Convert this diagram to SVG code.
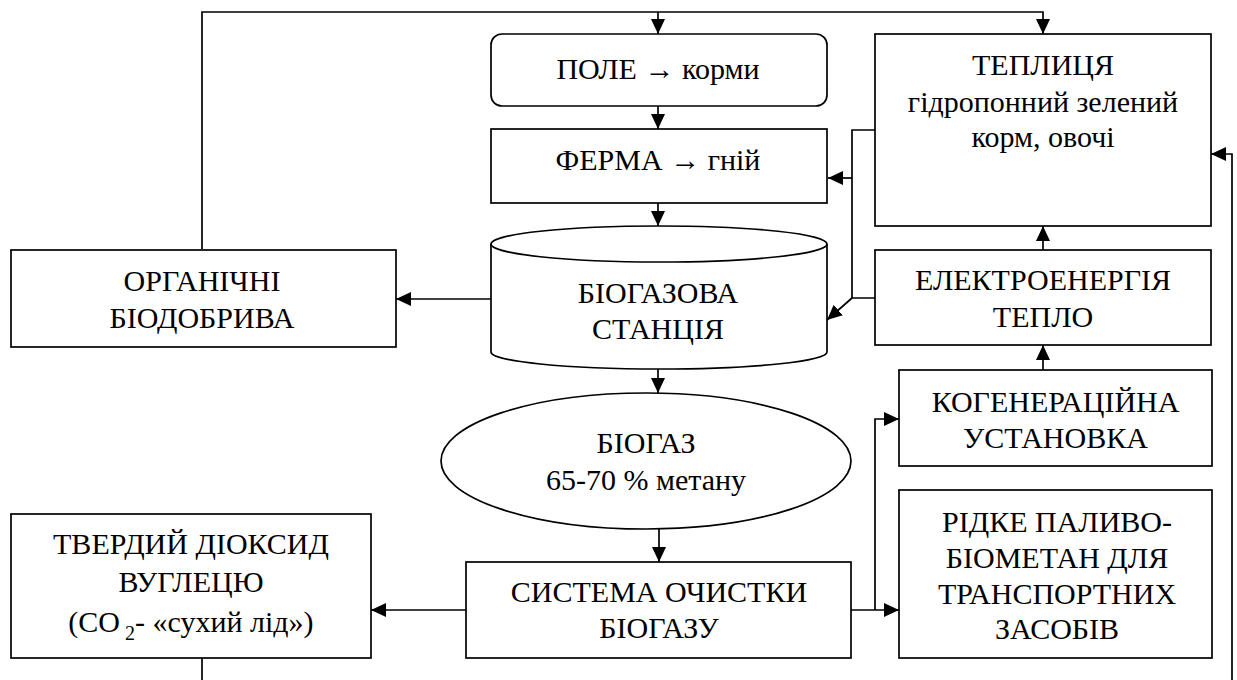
<svg xmlns="http://www.w3.org/2000/svg" width="1237" height="680" viewBox="0 0 1237 680">
<defs>
<marker id="ah" markerUnits="userSpaceOnUse" markerWidth="15" markerHeight="14" viewBox="0 0 15 14" refX="15" refY="7" orient="auto">
<path d="M0,0 L15,7 L0,14 Z" fill="#000"/>
</marker>
</defs>
<g id="connectors" fill="none" stroke="#000" stroke-width="1.7">
<path d="M202,249 V12 H1043 V34" marker-end="url(#ah)"/>
<path d="M658,12 V34" marker-end="url(#ah)"/>
<path d="M658,106 V129" marker-end="url(#ah)"/>
<path d="M658,203 V226" marker-end="url(#ah)"/>
<path d="M491,299 H396" marker-end="url(#ah)"/>
<path d="M658,369 V393" marker-end="url(#ah)"/>
<path d="M659,515 V562" marker-end="url(#ah)"/>
<path d="M466,610 H371" marker-end="url(#ah)"/>
<path d="M851,610 H899" marker-end="url(#ah)"/>
<path d="M875,610 V419 H899" marker-end="url(#ah)"/>
<path d="M1043,370 V345" marker-end="url(#ah)"/>
<path d="M1043,250 V226" marker-end="url(#ah)"/>
<path d="M875,130 H852 V298 H875"/>
<path d="M852,178 H828" marker-end="url(#ah)"/>
<path d="M852,298 L827,320" marker-end="url(#ah)"/>
<path d="M1232,680 V154 H1211" marker-end="url(#ah)"/>
<path d="M202,658 V680"/>
</g>
<g id="nodes" font-family="Liberation Serif" font-size="30" text-anchor="middle">
<g id="pole">
<rect x="491" y="34" width="336" height="72" rx="11" fill="#fff" stroke="#000" stroke-width="1.7"/>
<text x="658" y="79">ПОЛЕ  → корми</text>
</g>
<g id="ferma">
<rect x="491" y="129" width="336" height="74" fill="#fff" stroke="#000" stroke-width="1.7"/>
<text x="658" y="170">ФЕРМА  → гній</text>
</g>
<g id="teplytsia">
<rect x="875" y="34" width="336" height="192" fill="#fff" stroke="#000" stroke-width="1.7"/>
<text x="1043" y="75">ТЕПЛИЦЯ</text>
<text x="1043" y="111.5">гідропонний зелений</text>
<text x="1043" y="147">корм, овочі</text>
</g>
<g id="elektro">
<rect x="875" y="250" width="336" height="95" fill="#fff" stroke="#000" stroke-width="1.7"/>
<text x="1043" y="290">ЕЛЕКТРОЕНЕРГІЯ</text>
<text x="1043" y="327">ТЕПЛО</text>
</g>
<g id="organichni">
<rect x="11" y="250" width="385" height="97" fill="#fff" stroke="#000" stroke-width="1.7"/>
<text x="202" y="291">ОРГАНІЧНІ</text>
<text x="202" y="328">БІОДОБРИВА</text>
</g>
<g id="biogas-station">
<path d="M491,244 V352 A168,17 0 0 0 827,352 V244 A168,18 0 0 0 491,244 Z" fill="#fff" stroke="#000" stroke-width="1.7"/>
<path d="M491,244 A168,18 0 0 0 827,244" fill="none" stroke="#000" stroke-width="1.7"/>
<text x="658" y="303">БІОГАЗОВА</text>
<text x="658" y="339">СТАНЦІЯ</text>
</g>
<g id="biogas">
<ellipse cx="646" cy="461" rx="205" ry="68" fill="#fff" stroke="#000" stroke-width="1.7"/>
<text x="646" y="453">БІОГАЗ</text>
<text x="646" y="490">65-70 % метану</text>
</g>
<g id="kogen">
<rect x="899" y="370" width="313" height="96" fill="#fff" stroke="#000" stroke-width="1.7"/>
<text x="1055.5" y="412">КОГЕНЕРАЦІЙНА</text>
<text x="1055.5" y="448">УСТАНОВКА</text>
</g>
<g id="ridke">
<rect x="899" y="490" width="313" height="168" fill="#fff" stroke="#000" stroke-width="1.7"/>
<text x="1057" y="532">РІДКЕ ПАЛИВО-</text>
<text x="1057" y="568">БІОМЕТАН ДЛЯ</text>
<text x="1057" y="604">ТРАНСПОРТНИХ</text>
<text x="1057" y="639">ЗАСОБІВ</text>
</g>
<g id="systema">
<rect x="466" y="562" width="385" height="96" fill="#fff" stroke="#000" stroke-width="1.7"/>
<text x="659" y="602">СИСТЕМА ОЧИСТКИ</text>
<text x="659" y="638">БІОГАЗУ</text>
</g>
<g id="tverdyi">
<rect x="11" y="514" width="360" height="144" fill="#fff" stroke="#000" stroke-width="1.7"/>
<text x="191" y="554">ТВЕРДИЙ ДІОКСИД</text>
<text x="191" y="592">ВУГЛЕЦЮ</text>
<text x="191" y="632">(CO<tspan font-size="20" dy="8"> 2</tspan><tspan dy="-8">- «сухий лід»)</tspan></text>
</g>
</g>
</svg>
